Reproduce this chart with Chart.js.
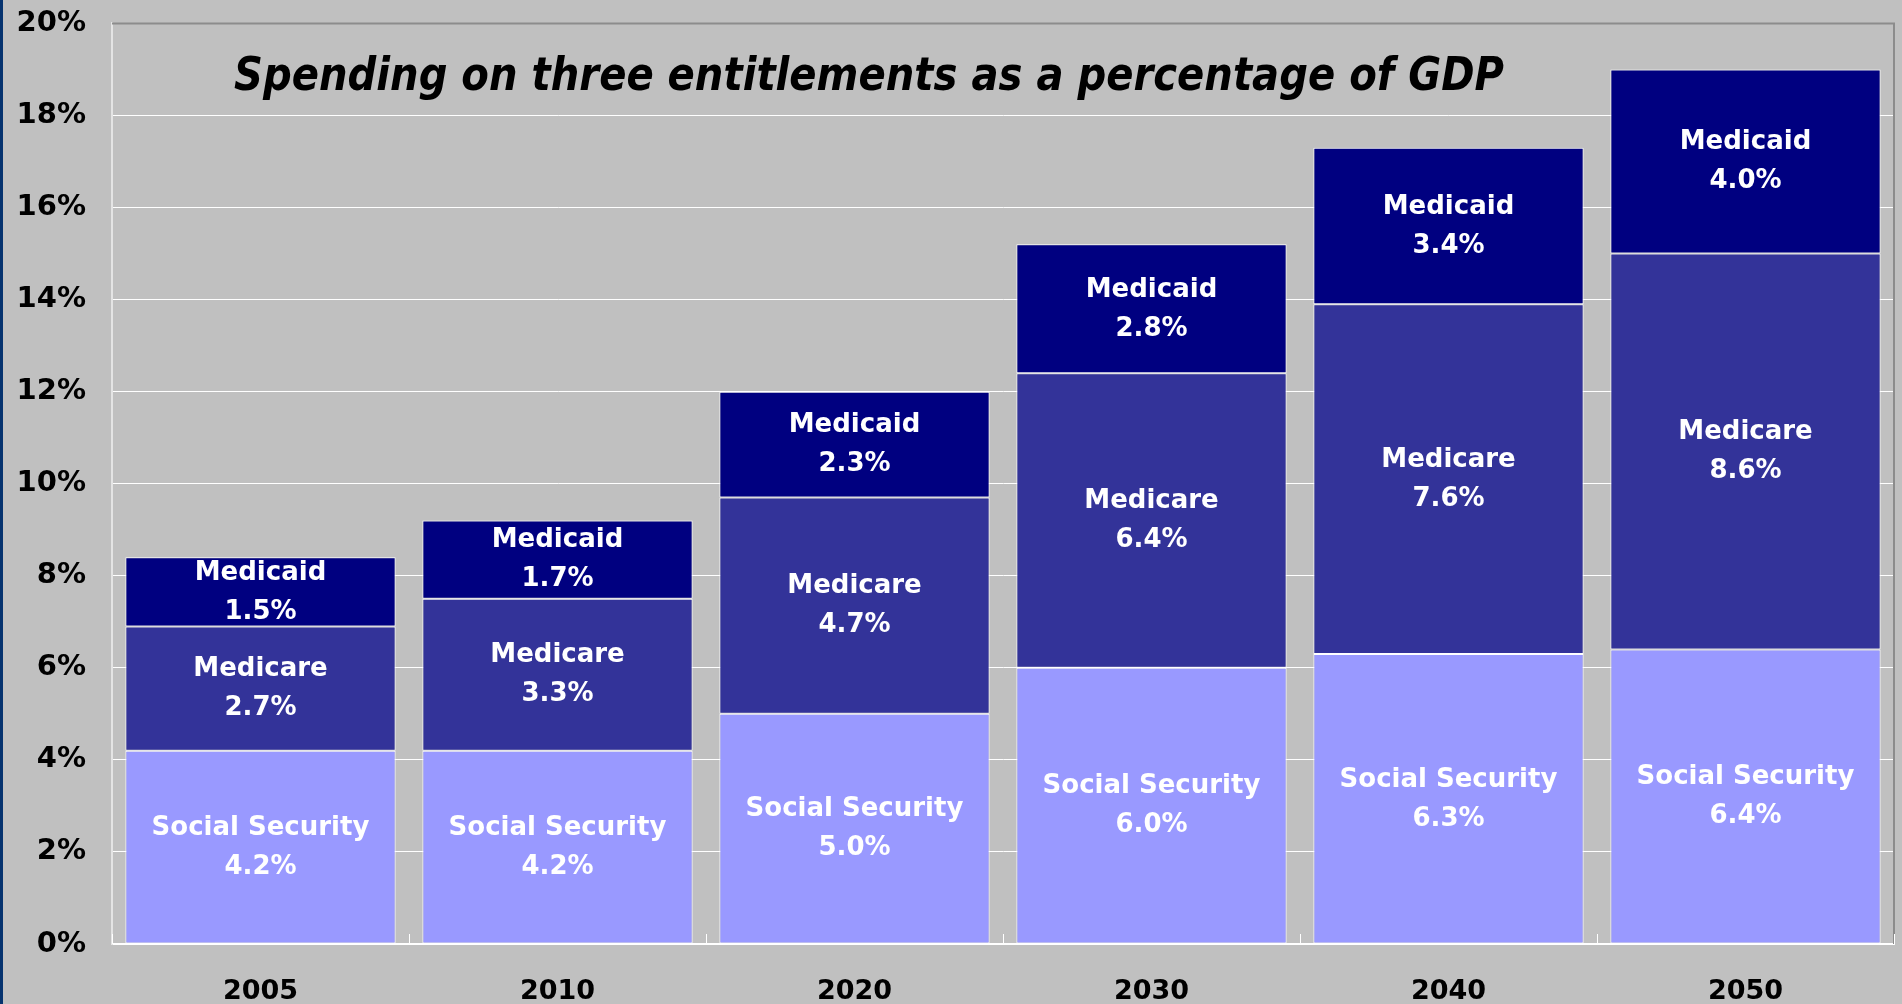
<!DOCTYPE html>
<html>
<head>
<meta charset="utf-8">
<script src="https://cdn.jsdelivr.net/npm/chart.js@4.4.1/dist/chart.umd.min.js"></script>
<style>
  html, body { margin:0; padding:0; background:#c0c0c0; overflow:hidden; }
  body { border-left:3px solid #06336f; height:1004px; box-sizing:border-box; }
  #wrap { width:1899px; height:1024px; position:relative; top:-20px; }
</style>
</head>
<body>
<div id="wrap"><canvas id="chart"></canvas></div>
<script>
// ---- Data ----
const years = ['2005', '2010', '2020', '2030', '2040', '2050'];
const socialSecurity = [4.2, 4.2, 5.0, 6.0, 6.3, 6.4];
const medicare = [2.7, 3.3, 4.7, 6.4, 7.6, 8.6];
const medicaid = [1.5, 1.7, 2.3, 2.8, 3.4, 4.0];
const seriesNames = ['Social Security', 'Medicare', 'Medicaid'];
const yMax = 20, yStep = 2;
const titleText = 'Spending on three entitlements as a percentage of GDP';

const FONT = '"DejaVu Sans", Verdana, sans-serif';

// ---- Plugins ----
// darker top/right edge and little tick marks between categories
const frame = {
  id: 'frame',
  beforeDatasetsDraw(chart){
    const { ctx, chartArea: a, scales:{ x } } = chart;
    ctx.save();
    ctx.strokeStyle = '#8c8c8c';
    ctx.lineWidth = 2;
    ctx.beginPath();
    ctx.moveTo(a.left, a.top); ctx.lineTo(a.right, a.top); ctx.lineTo(a.right, a.bottom);
    ctx.stroke();
    const half = (x.getPixelForValue(1) - x.getPixelForValue(0)) / 2;
    ctx.strokeStyle = '#ffffff';
    ctx.lineWidth = 1;
    for(let i = 0; i <= years.length; i++){
      const px = Math.round(x.getPixelForValue(i) - half) + 0.5;
      ctx.beginPath(); ctx.moveTo(px, a.bottom); ctx.lineTo(px, a.bottom - 10); ctx.stroke();
    }
    ctx.restore();
  }
};

const segLabels = {
  id: 'segLabels',
  afterDatasetsDraw(chart){
    const { ctx } = chart;
    ctx.save();
    ctx.fillStyle = '#ffffff';
    ctx.font = 'bold 26px ' + FONT;
    ctx.textAlign = 'center';
    ctx.textBaseline = 'middle';
    chart.data.datasets.forEach((ds, di) => {
      chart.getDatasetMeta(di).data.forEach((bar, i) => {
        const mid = (bar.y + bar.base) / 2;
        ctx.fillText(ds.label, bar.x, mid - 19);
        ctx.fillText(ds.data[i].toFixed(1) + '%', bar.x, mid + 20);
      });
    });
    ctx.restore();
  }
};

const bigTitle = {
  id: 'bigTitle',
  afterDraw(chart){
    const { ctx, chartArea: a } = chart;
    ctx.save();
    ctx.font = 'italic bold 47px ' + FONT;
    ctx.fillStyle = '#000000';
    ctx.textAlign = 'center';
    ctx.textBaseline = 'middle';
    const w = ctx.measureText(titleText).width;
    const sx = 1270 / w;
    ctx.translate(a.left + 757, a.top + 54);
    ctx.scale(sx, 1);
    ctx.fillText(titleText, 0, 0);
    ctx.restore();
  }
};

// ---- Chart ----
const barStyle = { borderColor:'#ffffff', borderWidth:1, borderSkipped:false, barPercentage:0.91, categoryPercentage:1.0 };

new Chart(document.getElementById('chart'), {
  type: 'bar',
  data: {
    labels: years,
    datasets: [
      { label: seriesNames[0], data: socialSecurity, backgroundColor:'#9999ff', ...barStyle },
      { label: seriesNames[1], data: medicare, backgroundColor:'#333399', ...barStyle },
      { label: seriesNames[2], data: medicaid, backgroundColor:'#000080', ...barStyle },
    ]
  },
  options: {
    responsive: true,
    maintainAspectRatio: false,
    animation: false,
    events: [],
    layout: { padding: { top: 2, right: 8, left: 0, bottom: 0 } },
    plugins: { legend:{ display:false }, tooltip:{ enabled:false }, title:{ display:false } },
    scales: {
      x: {
        stacked: true,
        afterFit(s){ s.height = 60; },
        grid: { display:false, drawTicks:false },
        border: { display:true, color:'#ffffff', width:2 },
        ticks: { color:'#000', font:{ family:FONT, size:27, weight:'bold' }, padding:32 }
      },
      y: {
        stacked: true,
        min: 0, max: yMax,
        afterFit(s){ s.width = 109; },
        grid: { color:'#ffffff', lineWidth:1, drawTicks:false },
        border: { display:true, color:'#e4e4e4', width:2 },
        ticks: { stepSize:yStep, color:'#000', padding:26, font:{ family:FONT, size:29, weight:'bold' },
                 callback: v => v + '%' }
      }
    }
  },
  plugins: [frame, segLabels, bigTitle]
});
</script>
</body>
</html>
